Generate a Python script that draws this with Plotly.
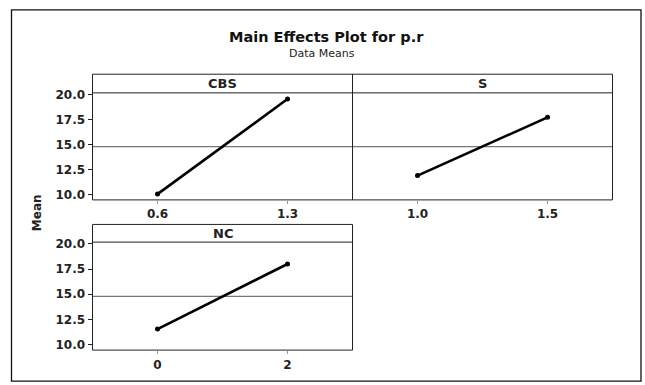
import plotly.graph_objects as go

# ---- data ----
factors = ["CBS", "S", "NC"]
cbs_levels = ["0.6", "1.3"]
cbs_means = [10.05, 19.55]
s_levels = ["1.0", "1.5"]
s_means = [11.9, 17.72]
nc_levels = ["0", "2"]
nc_means = [11.55, 18.0]
y_ticks = [10.0, 12.5, 15.0, 17.5, 20.0]
y_tick_labels = ["10.0", "12.5", "15.0", "17.5", "20.0"]

levels = [cbs_levels, s_levels, nc_levels]
means = [cbs_means, s_means, nc_means]
all_means = cbs_means + s_means + nc_means
grand_mean = sum(all_means) / len(all_means)

W, H = 645, 385
def px(x):
    return x / W
def py(y):
    return 1 - y / H

FONT = "DejaVu Sans"
# panel geometry (pixels)
panels = [
    dict(x0=92.5, x1=352.5, y0=89.5, y1=198.5, strip=70.5),
    dict(x0=352.5, x1=612.5, y0=89.5, y1=198.5, strip=70.5),
    dict(x0=92.5, x1=352.5, y0=241.5, y1=351.5, strip=223.5),
]

fig = go.Figure()
shapes = []
annotations = []
layout = {}

for i, (lv, mv, p) in enumerate(zip(levels, means, panels)):
    n = "" if i == 0 else str(i + 1)
    fig.add_trace(go.Scatter(
        x=lv, y=mv, mode="lines+markers",
        line=dict(color="black", width=2.6),
        marker=dict(color="black", size=5),
        xaxis="x" + n, yaxis="y" + n, showlegend=False,
        hoverinfo="skip",
    ))
    show_y = i != 1
    layout["xaxis" + n] = dict(
        domain=[px(p["x0"]), px(p["x1"])], anchor="y" + n,
        type="category", range=[-0.5, 1.5],
        showline=False,
        ticks="outside", ticklen=3, tickcolor="#999",
        showgrid=False, zeroline=False,
        tickfont=dict(family=FONT, size=12, color="#222", weight="bold"),
        fixedrange=True,
    )
    layout["yaxis" + n] = dict(
        domain=[py(p["y1"]), py(p["y0"])], anchor="x" + n,
        range=[9.47, 20.17],
        tickvals=y_ticks, ticktext=y_tick_labels,
        showticklabels=show_y,
        ticks="outside" if show_y else "", ticklen=4, tickcolor="#222",
        showline=False,
        showgrid=False, zeroline=False,
        tickfont=dict(family=FONT, size=12, color="#222", weight="bold"),
        fixedrange=True,
    )
    # grand mean reference line
    shapes.append(dict(type="line", xref="x" + n + " domain", yref="y" + n,
                       x0=0, x1=1, y0=grand_mean, y1=grand_mean,
                       line=dict(color="#777", width=1.3), layer="below"))
    # panel border incl. strip header
    shapes.append(dict(type="rect", xref="paper", yref="paper",
                       x0=px(p["x0"]), x1=px(p["x1"]),
                       y0=py(p["y1"]), y1=py(p["strip"]),
                       line=dict(color="#222", width=1), fillcolor="rgba(0,0,0,0)"))
    shapes.append(dict(type="line", xref="paper", yref="paper",
                       x0=px(p["x0"]), x1=px(p["x1"]),
                       y0=py(p["y0"]), y1=py(p["y0"]),
                       line=dict(color="#222", width=1)))
    annotations.append(dict(text="<b>" + factors[i] + "</b>", xref="paper", yref="paper",
                            x=px((p["x0"] + p["x1"]) / 2), y=py((p["y0"] + p["strip"]) / 2),
                            xanchor="center", yanchor="middle", showarrow=False,
                            font=dict(family=FONT, size=13, color="#222")))

# outer frame
shapes.append(dict(type="rect", xref="paper", yref="paper",
                   x0=px(11.5), x1=px(641), y0=py(383), y1=py(5),
                   line=dict(color="#111", width=1.3), fillcolor="rgba(0,0,0,0)"))

annotations += [
    dict(text="<b>Main Effects Plot for p.r</b>", xref="paper", yref="paper",
         x=px(326), y=py(33), xanchor="center", yanchor="middle", showarrow=False,
         font=dict(family=FONT, size=14.5, color="#111")),
    dict(text="Data Means", xref="paper", yref="paper",
         x=px(322), y=py(49.5), xanchor="center", yanchor="middle", showarrow=False,
         font=dict(family=FONT, size=11, color="#222")),
    dict(text="<b>Mean</b>", xref="paper", yref="paper",
         x=px(37), y=py(212), xanchor="center", yanchor="middle", showarrow=False,
         textangle=-90, font=dict(family=FONT, size=12, color="#222")),
]

fig.update_layout(
    width=W, height=H, margin=dict(l=0, r=0, t=0, b=0),
    paper_bgcolor="white", plot_bgcolor="white",
    shapes=shapes, annotations=annotations,
    **layout,
)

fig.write_html("out.html", config={"displayModeBar": False})
